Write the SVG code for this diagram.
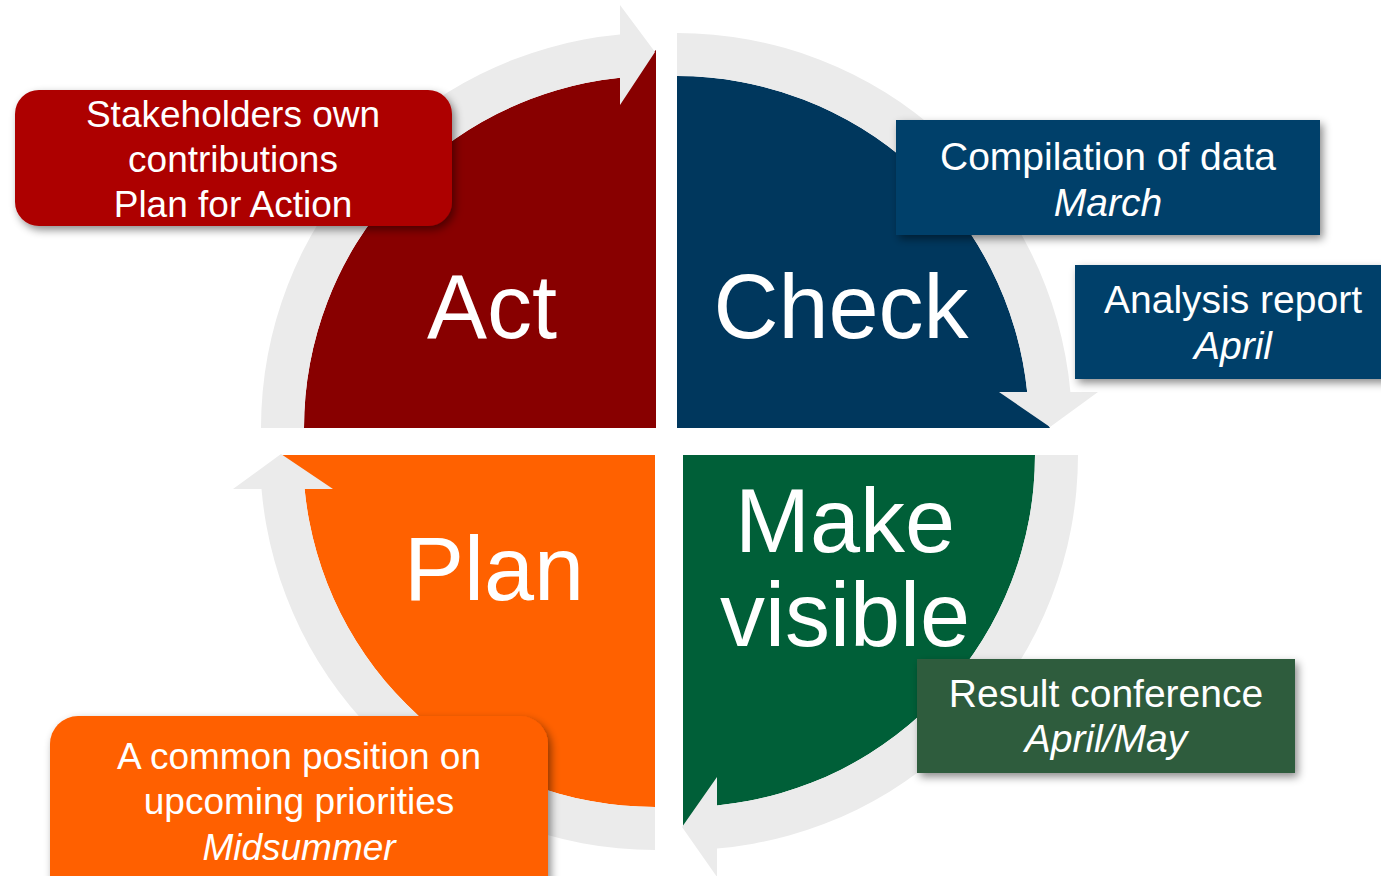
<svg xmlns="http://www.w3.org/2000/svg" width="1381" height="876" viewBox="0 0 1381 876">
  <defs>
    <filter id="sh" x="-10%" y="-20%" width="125%" height="150%">
      <feDropShadow dx="3" dy="4" stdDeviation="4" flood-color="#000" flood-opacity="0.45"/>
    </filter>
    <style>
      .ring { fill: #EBEBEB; }
      .big { font-family: "Liberation Sans", Arial, sans-serif; font-size: 90px; fill: #fff; text-anchor: middle; }
      .lbl { font-family: "Liberation Sans", Arial, sans-serif; font-size: 39px; fill: #fff; text-anchor: middle; }
      .sm { font-size: 37px; }
      .it { font-style: italic; }
    </style>
  </defs>
  <rect width="1381" height="876" fill="#fff"/>

  <g id="quadrants">
    <g id="act">
      <path d="M656,428 L304,428 A352,352 0 0 1 620,77.8 L656,50 Z" fill="#880000"/>
    </g>
    <g id="check">
      <path d="M677,428 L677,76 A352,352 0 0 1 1027.2,392 L1050,428 Z" fill="#00375D"/>
    </g>
    <g id="make-visible">
      <path d="M683,455 L1035,455 A352,352 0 0 1 717,805.4 L683,827 Z" fill="#005F38"/>
    </g>
    <g id="plan">
      <path d="M655,455 L655,807 A352,352 0 0 1 304.6,489 L281,455 Z" fill="#FF6100"/>
    </g>
  </g>

  <g id="connectors">
    <path class="ring" d="M261,428 A395,395 0 0 1 620,34.6 L620,5 L655,52 L620,105 L620,77.8 A352,352 0 0 0 304,428 Z"/>
    <path class="ring" d="M677,33 A395,395 0 0 1 1070.4,392 L1098,392 L1050,427 L999,392 L1027.2,392 A352,352 0 0 0 677,76 Z"/>
    <path class="ring" d="M1078,455 A395,395 0 0 1 717,848.5 L717,877 L682,827 L717,777 L717,805.4 A352,352 0 0 0 1035,455 Z"/>
    <path class="ring" d="M655,850 A395,395 0 0 1 261.5,489 L233,489 L281,454 L333,489 L304.6,489 A352,352 0 0 0 655,807 Z"/>
  </g>

  <g id="labels">
    <text class="big" x="492" y="338">Act</text>
    <text class="big" x="841" y="338">Check</text>
    <text class="big" x="845" y="552">Make</text>
    <text class="big" x="845" y="646">visible</text>
    <text class="big" x="494" y="600">Plan</text>
  </g>

  <g id="note-act">
    <rect x="15" y="90" width="437" height="136" rx="24" fill="#AD0000" filter="url(#sh)"/>
    <text class="lbl sm" x="233" y="127">Stakeholders own</text>
    <text class="lbl sm" x="233" y="172">contributions</text>
    <text class="lbl sm" x="233" y="217">Plan for Action</text>
  </g>

  <g id="note-compilation">
    <rect x="896" y="120" width="424" height="115" fill="#01406A" filter="url(#sh)"/>
    <text class="lbl" x="1108" y="170">Compilation of data</text>
    <text class="lbl it" x="1108" y="216">March</text>
  </g>

  <g id="note-analysis">
    <rect x="1075" y="265" width="330" height="114" fill="#01406A" filter="url(#sh)"/>
    <text class="lbl" x="1233" y="313">Analysis report</text>
    <text class="lbl it" x="1233" y="359">April</text>
  </g>

  <g id="note-result">
    <rect x="917" y="659" width="378" height="114" fill="#2E5B3E" filter="url(#sh)"/>
    <text class="lbl" x="1106" y="707">Result conference</text>
    <text class="lbl it" x="1106" y="752">April/May</text>
  </g>

  <g id="note-plan">
    <rect x="50" y="716" width="498" height="200" rx="28" fill="#FF6000" filter="url(#sh)"/>
    <text class="lbl sm" x="299" y="769">A common position on</text>
    <text class="lbl sm" x="299" y="814">upcoming priorities</text>
    <text class="lbl sm it" x="299" y="860">Midsummer</text>
  </g>
</svg>
